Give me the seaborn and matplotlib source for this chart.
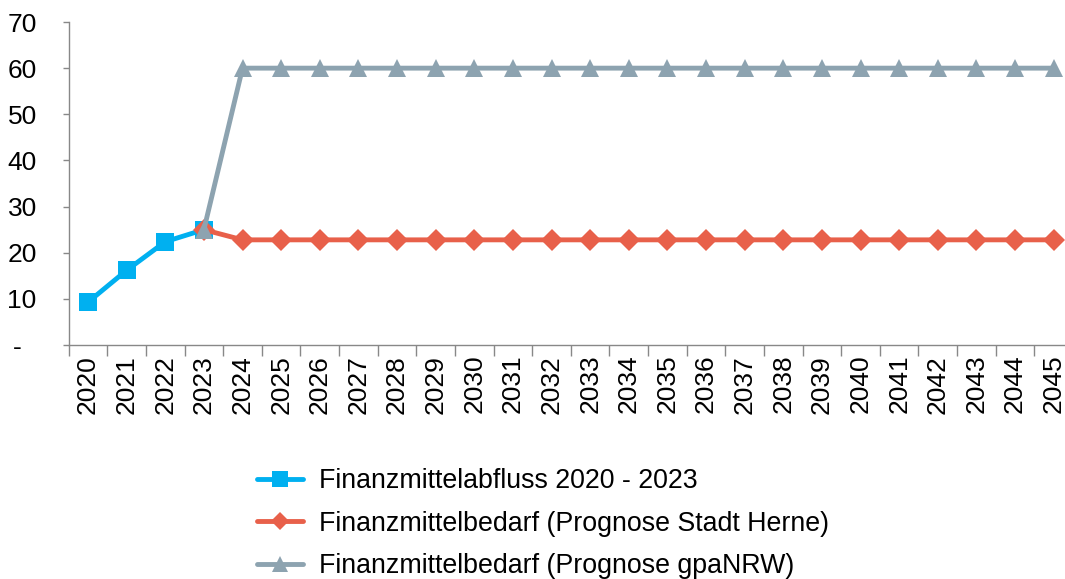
import numpy as np
import pandas as pd
import matplotlib.pyplot as plt
import seaborn as sns

sns.set_style("white")
plt.rcParams["font.family"] = ["Liberation Sans", "DejaVu Sans"]
plt.rcParams["text.color"] = "black"
plt.rcParams["xtick.labelcolor"] = "black"
plt.rcParams["ytick.labelcolor"] = "black"

# data
years = [str(y) for y in range(2020, 2046)]
abfluss_years = ["2020", "2021", "2022", "2023"]
abfluss = [9.3, 16.2, 22.4, 25.0]
herne_years = years[3:]
herne = [25.0] + [22.8] * 22
gpa_years = years[3:]
gpa = [25.0] + [60.0] * 22
y_ticks = [0, 10, 20, 30, 40, 50, 60, 70]
y_labels = ["-  ", "10", "20", "30", "40", "50", "60", "70"]

labels = ["Finanzmittelabfluss 2020 - 2023",
          "Finanzmittelbedarf (Prognose Stadt Herne)",
          "Finanzmittelbedarf (Prognose gpaNRW)"]
colors = ["#00B0F0", "#E8604A", "#8DA3B0"]
markers = ["s", "D", "^"]
msizes = [13, 11, 13]

pos = {y: i for i, y in enumerate(years)}

fig = plt.figure(figsize=(10.65, 5.79), dpi=100)
ax = fig.add_axes([0.0645, 0.404, 0.943, 0.558])

series = [(abfluss_years, abfluss), (herne_years, herne), (gpa_years, gpa)]
for (xs, vals), lab, c, m, ms in zip(series, labels, colors, markers, msizes):
    df = pd.DataFrame({"x": [pos[x] for x in xs], "y": vals})
    sns.lineplot(data=df, x="x", y="y", ax=ax, color=c, linewidth=3.5,
                 marker=m, markersize=ms, markeredgewidth=0, label=lab)

ax.set_xlim(-0.5, len(years) - 0.5)
ax.set_ylim(0, 70)
ax.set_xticks(range(len(years)))
ax.set_xticklabels(years, rotation=90, fontsize=19)
ax.set_xticks(np.arange(-0.5, len(years), 1), minor=True)
ax.tick_params(axis="x", which="major", length=0, pad=7)
ax.tick_params(axis="x", which="minor", length=8, width=1, color="#888888", bottom=True)
ax.set_yticks(y_ticks)
ax.set_yticklabels(y_labels, fontsize=19)
ax.tick_params(axis="y", length=4, width=1, color="#888888", left=True, pad=19)
ax.set_xlabel("")
ax.set_ylabel("")
for s in ["top", "right"]:
    ax.spines[s].set_visible(False)
for s in ["left", "bottom"]:
    ax.spines[s].set_color("#888888")
    ax.spines[s].set_linewidth(1)

ax.legend(loc="upper left", bbox_to_anchor=(0.2315, 0.21), bbox_transform=fig.transFigure,
          frameon=False, fontsize=19.3, handlelength=1.7, handletextpad=0.6, labelspacing=0.62,
          borderaxespad=0, markerscale=0.85)

plt.savefig("out.png", dpi=100)
plt.close()
